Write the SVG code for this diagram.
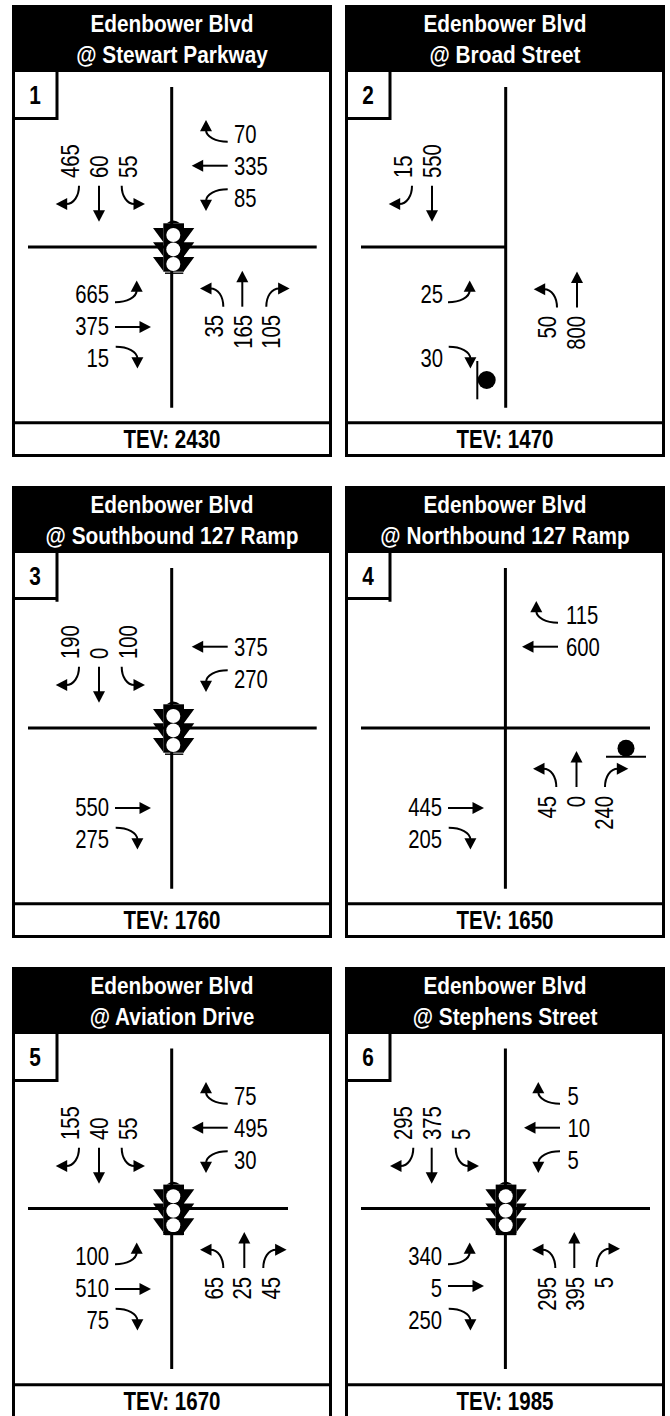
<svg xmlns="http://www.w3.org/2000/svg" width="670" height="1416" viewBox="0 0 670 1416">
<style>
text{font-family:"Liberation Sans",Arial,sans-serif;fill:#000}
.h{font-size:24px;font-weight:700;fill:#fff;text-anchor:middle}
.t{font-size:26px;font-weight:700;text-anchor:middle}
.b{font-size:26px;font-weight:700;text-anchor:middle}
.n{font-size:26px}
.e{text-anchor:end}
.fr{fill:#fff;stroke:#000;stroke-width:3}
.rd{fill:none;stroke:#000;stroke-width:3}
.ln{fill:none;stroke:#000;stroke-width:2}
.sl{fill:none;stroke:#000;stroke-width:2}
</style>
<defs>
<g id="thru"><path class="ln" d="M0,0V26"/><path d="M-6,24.5H6L0,36Z"/></g>
<g id="tv"><path class="ln" d="M0,0C0,10-5,18.3-13,18.3"/><path d="M-11.8,12.3V24.3L-23.3,18.3Z"/></g>
<g id="th"><path class="ln" d="M0,0C0,12-5,21.7-12,21.7"/><path d="M-10.5,15.7V27.7L-21.7,21.7Z"/></g>
<g id="frame">
<rect class="fr" x="13.5" y="6.5" width="317" height="449"/>
<rect x="12" y="5" width="320" height="67"/>
<path class="rd" d="M12,422.7H332"/>
</g>
<g id="sig">
<rect x="163.3" y="223.3" width="20.7" height="48.4"/>
<path d="M166.7,223.3Q173.3,217.5 180,223.3Z"/>
<path class="rd" style="stroke-width:1.4" d="M165,273.2H183.3"/>
<path d="M153,228H163.3V242ZM153,242.3H163.3V256.3ZM153,257H163.3V271ZM184,228H194.3L184,242ZM184,242.3H194.3L184,256.3ZM184,257H194.3L184,271Z"/>
<circle cx="173.3" cy="235" r="7" fill="#fff"/><circle cx="173.3" cy="249.4" r="7" fill="#fff"/><circle cx="173.3" cy="264" r="7" fill="#fff"/>
</g>
</defs>

<g id="panel1">
<use href="#frame"/>
<text class="h" transform="translate(172,31.7) scale(.868,1)">Edenbower Blvd</text>
<text class="h" transform="translate(172,63) scale(.868,1)">@ Stewart Parkway</text>
<path class="rd" d="M13.5,72V118.5H57V72"/>
<text class="b" transform="translate(35,104) scale(.8,1)">1</text>
<text class="t" transform="translate(172,447.7) scale(.79,1)">TEV: 2430</text>
</g>
<g id="panel2" transform="translate(333,0)">
<use href="#frame"/>
<text class="h" transform="translate(172,31.7) scale(.868,1)">Edenbower Blvd</text>
<text class="h" transform="translate(172,63) scale(.868,1)">@ Broad Street</text>
<path class="rd" d="M13.5,72V118.5H57V72"/>
<text class="b" transform="translate(35,104) scale(.8,1)">2</text>
<text class="t" transform="translate(172,447.7) scale(.79,1)">TEV: 1470</text>
</g>
<g id="panel3" transform="translate(0,481)">
<use href="#frame"/>
<text class="h" transform="translate(172,31.7) scale(.868,1)">Edenbower Blvd</text>
<text class="h" transform="translate(172,63) scale(.868,1)">@ Southbound 127 Ramp</text>
<path class="rd" d="M13.5,72V117.5H57V120.7M57,117.5V72"/>
<text class="b" transform="translate(35,104) scale(.8,1)">3</text>
<text class="t" transform="translate(172,447.7) scale(.79,1)">TEV: 1760</text>
</g>
<g id="panel4" transform="translate(333,481)">
<use href="#frame"/>
<text class="h" transform="translate(172,31.7) scale(.868,1)">Edenbower Blvd</text>
<text class="h" transform="translate(172,63) scale(.868,1)">@ Northbound 127 Ramp</text>
<path class="rd" d="M13.5,72V117.5H57V120.7M57,117.5V72"/>
<text class="b" transform="translate(35,104) scale(.8,1)">4</text>
<text class="t" transform="translate(172,447.7) scale(.79,1)">TEV: 1650</text>
</g>
<g id="panel5" transform="translate(0,962)">
<use href="#frame"/>
<text class="h" transform="translate(172,31.7) scale(.868,1)">Edenbower Blvd</text>
<text class="h" transform="translate(172,63) scale(.868,1)">@ Aviation Drive</text>
<path class="rd" d="M13.5,72V118.5H57V72"/>
<text class="b" transform="translate(35,104) scale(.8,1)">5</text>
<text class="t" transform="translate(172,447.7) scale(.79,1)">TEV: 1670</text>
</g>
<g id="panel6" transform="translate(333,962)">
<use href="#frame"/>
<text class="h" transform="translate(172,31.7) scale(.868,1)">Edenbower Blvd</text>
<text class="h" transform="translate(172,63) scale(.868,1)">@ Stephens Street</text>
<path class="rd" d="M13.5,72V118.5H57V72"/>
<text class="b" transform="translate(35,104) scale(.8,1)">6</text>
<text class="t" transform="translate(172,447.7) scale(.79,1)">TEV: 1985</text>
</g>

<g id="connectors">
<g id="roads">
<path class="rd" d="M171.7,87V407.7M28,247H316.7"/>
<path class="rd" d="M505.7,87V407.7M361,247H505.7"/>
<path class="rd" d="M171.7,568V888.7M28,728H316.7"/>
<path class="rd" d="M505.4,568V888.7M361,728H650"/>
<path class="rd" d="M171.7,1048.5V1369M28,1208.5H288"/>
<path class="rd" d="M505.4,1048.5V1369M361,1208.5H650"/>
</g>
<g id="arrows1">
<use href="#th" transform="translate(227.7,141.7) rotate(90)"/><use href="#thru" transform="translate(227.7,165.7) rotate(90)"/><use href="#th" transform="translate(227.7,189.3) rotate(90) scale(-1,1)"/>
<use href="#tv" transform="translate(79,185.7)"/><use href="#thru" transform="translate(99,185.7)"/><use href="#tv" transform="translate(121.7,185.7) scale(-1,1)"/>
<use href="#th" transform="translate(115,302.3) rotate(-90) scale(-1,1)"/><use href="#thru" transform="translate(115,327) rotate(-90)"/><use href="#th" transform="translate(115.7,346.7) rotate(-90)"/>
<use href="#tv" transform="translate(223.3,306.7) rotate(180) scale(-1,1)"/><use href="#thru" transform="translate(242.3,306.7) rotate(180)"/><use href="#tv" transform="translate(266.3,306.7) rotate(180)"/>
</g>
<g id="arrows2" transform="translate(333,0)">
<use href="#tv" transform="translate(79,185.7)"/><use href="#thru" transform="translate(99,185.7)"/>
<use href="#th" transform="translate(115,302.3) rotate(-90) scale(-1,1)"/><use href="#th" transform="translate(115.7,346.7) rotate(-90)"/>
<use href="#tv" transform="translate(224,307.5) rotate(180) scale(-1,1)"/><use href="#thru" transform="translate(244,307.5) rotate(180)"/>
<path class="sl" d="M144.3,361V399.3"/><circle cx="153.7" cy="380" r="9"/>
</g>
<g id="arrows3" transform="translate(0,481)">
<use href="#thru" transform="translate(227.7,165.7) rotate(90)"/><use href="#th" transform="translate(227.7,189.3) rotate(90) scale(-1,1)"/>
<use href="#tv" transform="translate(79,185.7)"/><use href="#thru" transform="translate(99,185.7)"/><use href="#tv" transform="translate(121.7,185.7) scale(-1,1)"/>
<use href="#thru" transform="translate(115,327) rotate(-90)"/><use href="#th" transform="translate(115.7,346.7) rotate(-90)"/>
</g>
<g id="arrows4" transform="translate(333,481)">
<use href="#th" transform="translate(225,141.7) rotate(90)"/><use href="#thru" transform="translate(225,165.7) rotate(90)"/>
<use href="#thru" transform="translate(115,327) rotate(-90)"/><use href="#th" transform="translate(115.7,346.7) rotate(-90)"/>
<use href="#tv" transform="translate(223.3,306) rotate(180) scale(-1,1)"/><use href="#thru" transform="translate(243.5,306) rotate(180)"/><use href="#tv" transform="translate(272,306) rotate(180)"/>
<path class="sl" d="M273,275.7H313"/><circle cx="293" cy="267.2" r="8.5"/>
</g>
<g id="arrows5" transform="translate(0,962)">
<use href="#th" transform="translate(227.7,141.7) rotate(90)"/><use href="#thru" transform="translate(227.7,165.7) rotate(90)"/><use href="#th" transform="translate(227.7,189.3) rotate(90) scale(-1,1)"/>
<use href="#tv" transform="translate(79,185.7)"/><use href="#thru" transform="translate(99,185.7)"/><use href="#tv" transform="translate(121.7,185.7) scale(-1,1)"/>
<use href="#th" transform="translate(115,302.3) rotate(-90) scale(-1,1)"/><use href="#thru" transform="translate(115,327) rotate(-90)"/><use href="#th" transform="translate(115.7,346.7) rotate(-90)"/>
<use href="#tv" transform="translate(223.3,306) rotate(180) scale(-1,1)"/><use href="#thru" transform="translate(244.3,306) rotate(180)"/><use href="#tv" transform="translate(263.3,306) rotate(180)"/>
</g>
<g id="arrows6" transform="translate(333,962)">
<use href="#th" transform="translate(227,141.7) rotate(90)"/><use href="#thru" transform="translate(227,165.7) rotate(90)"/><use href="#th" transform="translate(227,189.3) rotate(90) scale(-1,1)"/>
<use href="#tv" transform="translate(80.3,185.7)"/><use href="#thru" transform="translate(98.7,185.7)"/><use href="#tv" transform="translate(122.7,185.7) scale(-1,1)"/>
<use href="#th" transform="translate(115,302.3) rotate(-90) scale(-1,1)"/><use href="#thru" transform="translate(115,324) rotate(-90)"/><use href="#th" transform="translate(115.7,346.7) rotate(-90)"/>
<use href="#tv" transform="translate(222.3,306) rotate(180) scale(-1,1)"/><use href="#thru" transform="translate(241.3,306) rotate(180)"/><use href="#tv" transform="translate(263.7,305) rotate(180)"/>
</g>
</g>

<g id="signals">
<use href="#sig"/>
<use href="#sig" y="481"/>
<use href="#sig" y="961.3"/>
<rect x="163.3" y="1232" width="20.7" height="3"/>
<use href="#sig" x="332.4" y="961.3"/>
<rect x="495.7" y="1232" width="20.7" height="3"/>
</g>

<g id="labels1">
<text class="n" transform="translate(234,143.3) scale(.78,1)">70</text><text class="n" transform="translate(234,175) scale(.78,1)">335</text><text class="n" transform="translate(234,206.7) scale(.78,1)">85</text>
<text class="n" transform="translate(79,178) rotate(-90) scale(.78,1)">465</text><text class="n" transform="translate(107.5,178) rotate(-90) scale(.78,1)">60</text><text class="n" transform="translate(136.5,178) rotate(-90) scale(.78,1)">55</text>
<text class="n e" transform="translate(109,302.7) scale(.78,1)">665</text><text class="n e" transform="translate(109,335) scale(.78,1)">375</text><text class="n e" transform="translate(109,366.7) scale(.78,1)">15</text>
<text class="n e" transform="translate(223.3,315) rotate(-90) scale(.78,1)">35</text><text class="n e" transform="translate(251.7,315) rotate(-90) scale(.78,1)">165</text><text class="n e" transform="translate(280,315) rotate(-90) scale(.78,1)">105</text>
</g>
<g id="labels2" transform="translate(333,0)">
<text class="n" transform="translate(79,178) rotate(-90) scale(.78,1)">15</text><text class="n" transform="translate(107.5,178) rotate(-90) scale(.78,1)">550</text>
<text class="n e" transform="translate(110,302.7) scale(.78,1)">25</text><text class="n e" transform="translate(110,366.7) scale(.78,1)">30</text>
<text class="n e" transform="translate(223.3,316) rotate(-90) scale(.78,1)">50</text><text class="n e" transform="translate(251.7,316) rotate(-90) scale(.78,1)">800</text>
</g>
<g id="labels3" transform="translate(0,481)">
<text class="n" transform="translate(234,175) scale(.78,1)">375</text><text class="n" transform="translate(234,206.7) scale(.78,1)">270</text>
<text class="n" transform="translate(79,178) rotate(-90) scale(.78,1)">190</text><text class="n" transform="translate(107.5,178) rotate(-90) scale(.78,1)">0</text><text class="n" transform="translate(136.5,178) rotate(-90) scale(.78,1)">100</text>
<text class="n e" transform="translate(109,335) scale(.78,1)">550</text><text class="n e" transform="translate(109,366.7) scale(.78,1)">275</text>
</g>
<g id="labels4" transform="translate(333,481)">
<text class="n" transform="translate(233,143.3) scale(.78,1)">115</text><text class="n" transform="translate(233,175) scale(.78,1)">600</text>
<text class="n e" transform="translate(109,335) scale(.78,1)">445</text><text class="n e" transform="translate(109,366.7) scale(.78,1)">205</text>
<text class="n e" transform="translate(223.3,315) rotate(-90) scale(.78,1)">45</text><text class="n e" transform="translate(251.7,315) rotate(-90) scale(.78,1)">0</text><text class="n e" transform="translate(280,315) rotate(-90) scale(.78,1)">240</text>
</g>
<g id="labels5" transform="translate(0,962)">
<text class="n" transform="translate(234,143.3) scale(.78,1)">75</text><text class="n" transform="translate(234,175) scale(.78,1)">495</text><text class="n" transform="translate(234,206.7) scale(.78,1)">30</text>
<text class="n" transform="translate(79,178) rotate(-90) scale(.78,1)">155</text><text class="n" transform="translate(107.5,178) rotate(-90) scale(.78,1)">40</text><text class="n" transform="translate(136.5,178) rotate(-90) scale(.78,1)">55</text>
<text class="n e" transform="translate(109,302.7) scale(.78,1)">100</text><text class="n e" transform="translate(109,335) scale(.78,1)">510</text><text class="n e" transform="translate(109,366.7) scale(.78,1)">75</text>
<text class="n e" transform="translate(223,315) rotate(-90) scale(.78,1)">65</text><text class="n e" transform="translate(251,315) rotate(-90) scale(.78,1)">25</text><text class="n e" transform="translate(279.5,315) rotate(-90) scale(.78,1)">45</text>
</g>
<g id="labels6" transform="translate(333,962)">
<text class="n" transform="translate(234.5,143.3) scale(.78,1)">5</text><text class="n" transform="translate(234.5,175) scale(.78,1)">10</text><text class="n" transform="translate(234.5,206.7) scale(.78,1)">5</text>
<text class="n" transform="translate(79,178) rotate(-90) scale(.78,1)">295</text><text class="n" transform="translate(107.5,178) rotate(-90) scale(.78,1)">375</text><text class="n" transform="translate(136.5,178) rotate(-90) scale(.78,1)">5</text>
<text class="n e" transform="translate(109,302.7) scale(.78,1)">340</text><text class="n e" transform="translate(109,335) scale(.78,1)">5</text><text class="n e" transform="translate(109,366.7) scale(.78,1)">250</text>
<text class="n e" transform="translate(223,315) rotate(-90) scale(.78,1)">295</text><text class="n e" transform="translate(251,315) rotate(-90) scale(.78,1)">395</text><text class="n e" transform="translate(279.7,315) rotate(-90) scale(.78,1)">5</text>
</g>
</svg>
